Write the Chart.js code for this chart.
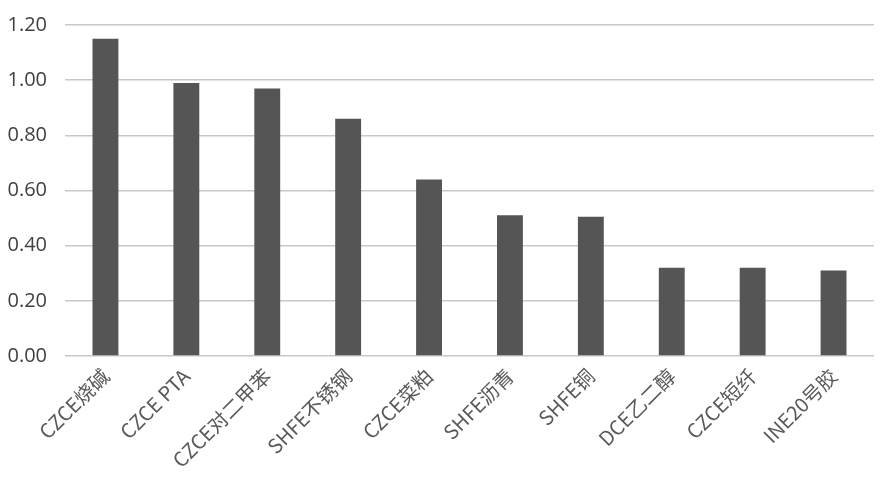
<!DOCTYPE html>
<html>
<head>
<meta charset="utf-8">
<script src="https://cdn.jsdelivr.net/npm/chart.js@4/dist/chart.umd.min.js"></script>
<style>
html,body{margin:0;padding:0;background:#fff;}
#wrap{width:882px;height:491px;position:relative;}
</style>
</head>
<body>
<div id="wrap"><canvas id="c" width="882" height="491"></canvas></div>
<script>
const categories = ["CZCE烧碱","CZCE PTA","CZCE对二甲苯","SHFE不锈钢","CZCE菜粕","SHFE沥青","SHFE铜","DCE乙二醇","CZCE短纤","INE20号胶"];
const values = [1.15, 0.99, 0.97, 0.86, 0.64, 0.51, 0.505, 0.32, 0.32, 0.31];
const yMin = 0, yMax = 1.2, yStep = 0.2;

new Chart(document.getElementById('c'), {
  type: 'bar',
  data: {
    labels: categories,
    datasets: [{
      data: values,
      backgroundColor: '#555555',
      barPercentage: 0.64,
      categoryPercentage: 0.5
    }]
  },
  options: {
    responsive: false,
    animation: false,
    devicePixelRatio: 1,
    layout: { padding: { top: 25, right: 8, left: 0, bottom: 11 } },
    plugins: { legend: { display: false }, tooltip: { enabled: false } },
    scales: {
      x: {
        grid: { display: false, drawTicks: false },
        border: { display: false },
        ticks: {
          color: '#595959',
          font: { family: "'Noto Sans CJK SC', 'Open Sans', sans-serif", size: 20 },
          maxRotation: 45, minRotation: 45, padding: 8, autoSkip: false
        }
      },
      y: {
        min: yMin, max: yMax,
        afterFit: s => { s.width = 65; s.paddingTop = 0; },
        grid: { color: '#c8c8c8', lineWidth: 1.5, drawTicks: false },
        border: { display: false },
        ticks: {
          stepSize: yStep,
          color: '#404040',
          padding: 18,
          font: { family: "'Open Sans', sans-serif", size: 20 },
          callback: v => Number(v).toFixed(2)
        }
      }
    }
  }
});
</script>
</body>
</html>
